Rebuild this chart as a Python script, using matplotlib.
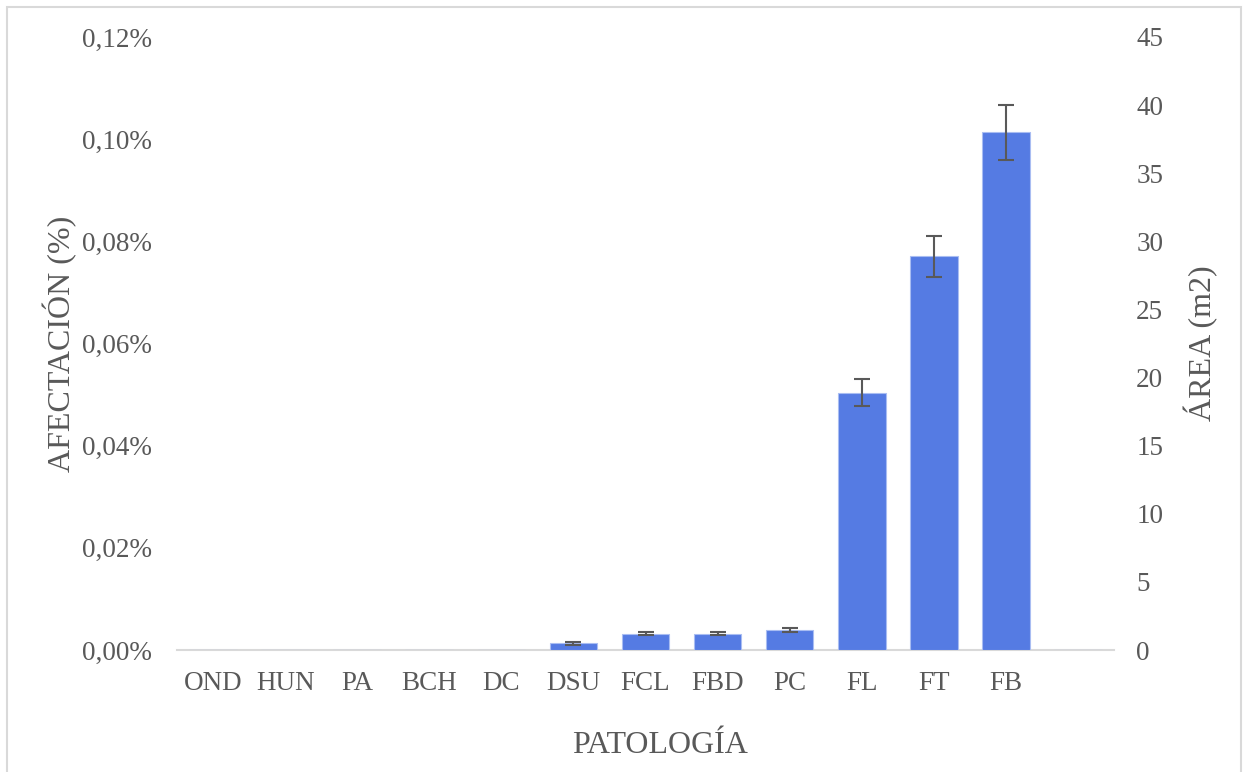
import matplotlib
matplotlib.use("Agg")
import matplotlib.pyplot as plt
from matplotlib.patches import Rectangle
from matplotlib.ticker import FuncFormatter

categories = ["OND", "HUN", "PA", "BCH", "DC", "DSU", "FCL", "FBD", "PC", "FL", "FT", "FB", ""]
area_m2 = [0, 0, 0, 0, 0, 0.5, 1.2, 1.2, 1.5, 18.9, 28.9, 38.0, 0]
area_err = [0, 0, 0, 0, 0, 0.1, 0.1, 0.1, 0.15, 1.0, 1.5, 2.0, 0]
left_ticks = [0, 0.02, 0.04, 0.06, 0.08, 0.10, 0.12]
right_ticks = [0, 5, 10, 15, 20, 25, 30, 35, 40, 45]

plt.rcParams['font.family'] = ['Liberation Serif', 'DejaVu Serif']
txt = "#595959"

fig = plt.figure(figsize=(12.44, 7.72), dpi=100)
fig.patches.append(Rectangle((7/1244, -0.02), (1241-7)/1244, (772-7)/772 + 0.02,
                             transform=fig.transFigure, fill=False,
                             edgecolor="#D9D9D9", linewidth=1.5))
ax = fig.add_axes([177/1244, 122/772, (1114-177)/1244, (650-37)/772])
ax2 = ax.twinx()

x = list(range(len(categories)))
ax2.bar(x, area_m2, width=0.66, color="#557BE3", edgecolor="#A9BDF2", linewidth=0.8,
        zorder=3)
ex = [i for i in x if area_err[i] > 0]
ax2.errorbar(ex, [area_m2[i] for i in ex], yerr=[area_err[i] for i in ex],
             fmt="none", ecolor="#595959", elinewidth=1.5, capsize=6, capthick=1.5,
             zorder=4)
ax2.set_ylim(0, 45)
ax2.set_yticks(right_ticks)
ax.set_ylim(0, 0.12)
ax.set_yticks(left_ticks)
ax.yaxis.set_major_formatter(FuncFormatter(lambda v, p: f"{v:.2f}%".replace(".", ",")))
ax.set_xlim(-0.5, len(categories) - 0.5)
ax.set_xticks(x)
ax.set_xticklabels(categories)

for a in (ax, ax2):
    for s in a.spines.values():
        s.set_visible(False)
    a.tick_params(length=0, colors=txt, labelsize=19.5)
ax.spines['bottom'].set_visible(True)
ax.spines['bottom'].set_color("#D9D9D9")
ax.spines['bottom'].set_linewidth(1.5)
ax.tick_params(axis='y', pad=18)
ax2.tick_params(axis='y', pad=16)
ax.tick_params(axis='x', pad=15)

ax.set_ylabel("AFECTACIÓN (%)", fontsize=23, color=txt, labelpad=3.5)
ax2.set_ylabel("ÁREA (m2)", fontsize=23, color=txt, labelpad=15)
ax.set_xlabel("PATOLOGÍA", fontsize=23, color=txt, labelpad=25)
ax.xaxis.label.set_x(0.5155)

fig.savefig("out.png", dpi=100)
